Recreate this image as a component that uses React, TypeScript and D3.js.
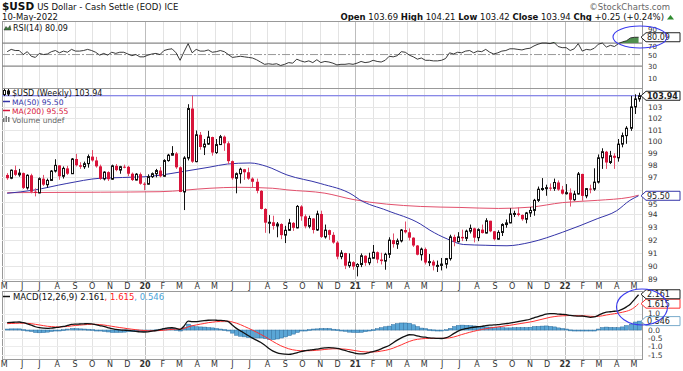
import React from 'react';
import * as d3 from 'd3';

const FONT = "'DejaVu Sans', Verdana, sans-serif";

// weekly candles, May 2019 – May 2022
const weeks = d3.timeMonday.range(new Date(2019, 4, 6), new Date(2022, 4, 10));

const opens = [
  97.20, 96.93, 97.59, 97.21, 97.35, 96.14, 97.17, 95.83, 95.73, 96.89,
  96.40, 96.75, 97.52, 97.99, 97.09, 97.74, 97.30, 98.52, 98.00, 97.88,
  98.13, 98.72, 98.40, 97.91, 96.88, 97.43, 96.85, 97.95, 97.60, 97.88,
  97.87, 97.30, 96.78, 97.26, 96.48, 96.44, 97.06, 97.30, 97.56, 97.09,
  98.39, 98.84, 98.98, 97.83, 95.81, 98.60, 102.82, 98.30, 100.56, 99.53,
  99.77, 100.37, 99.06, 99.73, 100.40, 99.84, 98.34, 96.93, 97.30, 97.67,
  97.42, 96.90, 96.64, 95.90, 94.44, 93.35, 93.38, 93.09, 93.24, 92.37,
  92.75, 93.33, 92.94, 94.64, 93.85, 93.06, 93.68, 92.77, 94.04, 92.23,
  92.76, 92.39, 91.79, 90.70, 90.98, 90.01, 90.28, 89.94, 90.10, 90.77,
  90.23, 90.58, 91.04, 90.48, 90.36, 90.88, 91.98, 91.67, 91.92, 92.77,
  92.59, 92.17, 91.56, 90.85, 91.28, 90.25, 90.32, 90.02, 90.03, 90.13,
  90.55, 92.23, 91.85, 92.23, 92.12, 92.68, 92.90, 92.17, 92.80, 92.53,
  93.50, 92.67, 92.05, 92.58, 93.20, 93.33, 94.04, 94.08, 93.96, 93.62,
  94.12, 94.32, 95.13, 96.03, 96.09, 96.16, 96.10, 96.58, 96.00, 95.67,
  95.75, 95.18, 95.64, 97.28, 95.49, 96.08, 96.04, 96.61, 98.62, 99.13,
  98.23, 98.79, 98.62, 99.77, 100.49, 101.12, 102.96, 103.66,
];
const highs = [
  97.35, 97.65, 97.97, 97.70, 97.40, 97.25, 97.30, 96.10, 97.00, 97.20,
  96.90, 97.60, 98.50, 98.00, 97.90, 97.95, 98.60, 98.95, 98.25, 98.30,
  98.90, 99.27, 98.70, 98.05, 97.50, 97.50, 98.05, 98.10, 97.95, 98.05,
  97.95, 97.40, 97.35, 97.40, 96.60, 97.25, 97.40, 97.70, 97.85, 98.50,
  98.95, 99.60, 99.10, 97.90, 98.75, 103.20, 103.96, 100.93, 100.80, 100.20,
  100.90, 100.40, 100.20, 100.55, 100.50, 100.00, 98.40, 97.40, 97.80, 97.70,
  97.80, 97.00, 96.90, 95.95, 94.50, 93.95, 93.90, 93.40, 93.30, 93.10,
  93.65, 93.40, 94.75, 94.74, 94.00, 93.90, 93.70, 94.30, 94.30, 93.20,
  92.80, 92.60, 91.90, 91.20, 91.00, 90.95, 90.35, 90.20, 90.95, 90.80,
  91.00, 91.60, 91.10, 91.00, 91.00, 92.20, 92.50, 92.10, 92.85, 93.44,
  92.90, 92.20, 91.60, 91.40, 91.40, 90.90, 90.45, 90.40, 90.60, 90.60,
  92.40, 92.40, 92.60, 92.80, 92.80, 93.20, 92.95, 92.90, 93.20, 93.70,
  93.50, 92.70, 92.75, 93.30, 93.60, 94.50, 94.30, 94.56, 94.00, 94.20,
  94.60, 95.25, 96.25, 96.94, 96.40, 96.50, 96.90, 96.75, 96.30, 96.45,
  96.10, 95.90, 97.44, 97.30, 96.10, 96.40, 97.75, 98.90, 99.42, 99.20,
  99.20, 99.00, 100.20, 100.75, 101.30, 103.93, 104.07, 104.21,
];
const lows = [
  96.80, 96.85, 97.10, 97.05, 96.05, 96.00, 95.70, 95.45, 95.70, 96.30,
  96.15, 96.70, 97.40, 96.80, 96.90, 97.20, 97.30, 97.90, 97.70, 97.70,
  97.80, 98.30, 97.80, 96.80, 96.75, 96.70, 96.80, 97.50, 97.30, 97.75,
  97.10, 96.70, 96.75, 96.40, 95.95, 96.40, 96.95, 97.00, 97.00, 97.05,
  98.30, 98.80, 97.70, 95.80, 94.35, 98.40, 98.20, 98.25, 99.30, 98.85,
  99.70, 98.80, 98.95, 99.70, 99.20, 98.10, 96.80, 95.70, 96.50, 96.80,
  96.80, 96.20, 95.70, 94.40, 92.55, 92.50, 92.80, 92.20, 92.05, 91.75,
  92.70, 92.70, 92.90, 93.50, 92.90, 92.90, 92.50, 92.70, 92.15, 92.10,
  92.00, 91.70, 90.50, 90.50, 89.75, 89.85, 89.70, 89.20, 89.90, 90.00,
  90.05, 90.55, 90.20, 90.10, 89.70, 90.60, 91.40, 91.30, 91.80, 92.50,
  91.95, 91.45, 90.80, 90.40, 90.10, 89.98, 89.65, 89.53, 89.65, 89.80,
  90.40, 91.50, 91.80, 91.90, 91.90, 92.50, 91.80, 91.90, 92.50, 92.50,
  92.60, 91.95, 92.00, 92.30, 92.95, 93.30, 93.80, 93.85, 93.50, 93.30,
  93.80, 93.90, 95.00, 95.90, 95.50, 95.90, 95.90, 95.90, 95.60, 95.60,
  94.63, 95.10, 95.60, 95.10, 95.30, 95.70, 95.90, 96.50, 97.70, 97.70,
  98.10, 97.70, 98.30, 99.50, 99.80, 100.90, 102.35, 103.42,
];
const closes = [
  96.93, 97.59, 97.21, 97.35, 96.14, 97.17, 95.83, 95.73, 96.89, 96.40,
  96.75, 97.52, 97.99, 97.09, 97.74, 97.30, 98.52, 98.00, 97.88, 98.13,
  98.72, 98.40, 97.91, 96.88, 97.43, 96.85, 97.95, 97.60, 97.88, 97.87,
  97.30, 96.78, 97.26, 96.48, 96.44, 97.06, 97.30, 97.56, 97.09, 98.39,
  98.84, 98.98, 97.83, 95.81, 98.60, 102.82, 98.30, 100.56, 99.53, 99.77,
  100.37, 99.06, 99.73, 100.40, 99.84, 98.34, 96.93, 97.30, 97.67, 97.42,
  96.90, 96.64, 95.90, 94.44, 93.35, 93.38, 93.09, 93.24, 92.37, 92.75,
  93.33, 92.94, 94.64, 93.85, 93.06, 93.68, 92.77, 94.04, 92.23, 92.76,
  92.39, 91.79, 90.70, 90.98, 90.01, 90.28, 89.94, 90.10, 90.77, 90.23,
  90.58, 91.04, 90.48, 90.36, 90.88, 91.98, 91.67, 91.92, 92.77, 92.59,
  92.17, 91.56, 90.85, 91.28, 90.25, 90.32, 90.02, 90.03, 90.13, 90.55,
  92.23, 91.85, 92.23, 92.12, 92.68, 92.90, 92.17, 92.80, 92.53, 93.50,
  92.67, 92.05, 92.58, 93.20, 93.33, 94.04, 94.08, 93.96, 93.62, 94.12,
  94.32, 95.13, 96.03, 96.09, 96.16, 96.10, 96.58, 96.00, 95.67, 95.75,
  95.18, 95.64, 97.28, 95.49, 96.08, 96.04, 96.61, 98.62, 99.13, 98.23,
  98.79, 98.62, 99.77, 100.49, 101.12, 102.96, 103.66, 103.94,
];

const rsiValues = [
  55, 59, 57, 57, 50, 55, 47, 45, 52, 50,
  51, 55, 57, 53, 56, 54, 59, 56, 56, 57,
  59, 57, 54, 49, 52, 49, 54, 52, 54, 54,
  51, 48, 50, 46, 46, 49, 51, 52, 50, 57,
  59, 60, 53, 40, 55, 69, 53, 59, 56, 56,
  58, 54, 55, 57, 55, 50, 45, 46, 47, 46,
  45, 44, 41, 37, 33, 34, 33, 34, 31, 33,
  36, 35, 42, 39, 37, 39, 36, 41, 36, 38,
  37, 35, 32, 33, 33, 34, 33, 35, 38, 36,
  37, 40, 38, 37, 40, 47, 46, 48, 55, 54,
  49, 46, 42, 44, 40, 40, 39, 39, 40, 43,
  53, 51, 54, 53, 56, 57, 53, 56, 55, 59,
  54, 51, 53, 56, 57, 60, 60, 59, 58, 60,
  61, 65, 68, 70, 70, 69, 71, 64, 62, 62,
  57, 60, 69, 56, 59, 58, 61, 68, 70, 63,
  66, 64, 69, 72, 74, 79, 80, 80.09,
];

const macdValues = [
  0.45, 0.47, 0.48, 0.49, 0.45, 0.38, 0.30, 0.20, 0.14, 0.11,
  0.10, 0.12, 0.15, 0.18, 0.22, 0.28, 0.34, 0.36, 0.37, 0.38,
  0.39, 0.38, 0.33, 0.27, 0.22, 0.15, 0.08, 0.04, 0.01, -0.01,
  -0.02, -0.05, -0.08, -0.11, -0.12, -0.11, -0.07, -0.03, 0.02, 0.08,
  0.13, 0.14, 0.10, 0.04, 0.25, 0.55, 0.52, 0.51, 0.55, 0.58,
  0.60, 0.61, 0.60, 0.59, 0.57, 0.52, 0.30, 0.10, -0.05, -0.20,
  -0.35, -0.50, -0.62, -0.75, -0.92, -1.12, -1.28, -1.38, -1.45, -1.48,
  -1.49, -1.46, -1.40, -1.32, -1.27, -1.24, -1.20, -1.17, -1.13, -1.10,
  -1.08, -1.10, -1.13, -1.18, -1.25, -1.33, -1.39, -1.44, -1.46, -1.44,
  -1.38, -1.32, -1.25, -1.15, -1.05, -0.95, -0.78, -0.62, -0.48, -0.37,
  -0.29, -0.30, -0.36, -0.42, -0.44, -0.48, -0.50, -0.51, -0.52, -0.48,
  -0.38, -0.22, -0.08, 0.02, 0.08, 0.13, 0.17, 0.20, 0.22, 0.27,
  0.30, 0.31, 0.33, 0.36, 0.39, 0.42, 0.47, 0.52, 0.56, 0.60,
  0.66, 0.75, 0.82, 0.90, 0.97, 1.00, 1.01, 0.98, 0.96, 0.94,
  0.90, 0.87, 0.85, 0.86, 0.82, 0.78, 0.80, 0.90, 1.02, 1.10,
  1.12, 1.15, 1.18, 1.28, 1.42, 1.60, 1.88, 2.161,
];
const signalValues = [
  0.39, 0.40, 0.41, 0.42, 0.42, 0.41, 0.39, 0.35, 0.31, 0.27,
  0.23, 0.21, 0.19, 0.19, 0.20, 0.22, 0.25, 0.28, 0.30, 0.32,
  0.34, 0.35, 0.35, 0.33, 0.31, 0.27, 0.23, 0.19, 0.15, 0.12,
  0.08, 0.05, 0.02, -0.01, -0.03, -0.05, -0.05, -0.04, -0.03, -0.01,
  0.02, 0.04, 0.06, 0.06, 0.10, 0.19, 0.26, 0.31, 0.36, 0.40,
  0.45, 0.48, 0.51, 0.53, 0.54, 0.54, 0.49, 0.42, 0.33, 0.22,
  0.11, -0.01, -0.13, -0.26, -0.39, -0.54, -0.69, -0.83, -0.96, -1.06,
  -1.15, -1.21, -1.25, -1.27, -1.27, -1.27, -1.26, -1.24, -1.22, -1.19,
  -1.17, -1.15, -1.15, -1.16, -1.17, -1.20, -1.24, -1.28, -1.32, -1.34,
  -1.35, -1.34, -1.33, -1.29, -1.25, -1.19, -1.11, -1.01, -0.91, -0.80,
  -0.70, -0.62, -0.57, -0.54, -0.52, -0.51, -0.51, -0.51, -0.51, -0.50,
  -0.48, -0.43, -0.36, -0.28, -0.21, -0.14, -0.08, -0.02, 0.03, 0.08,
  0.12, 0.16, 0.19, 0.22, 0.26, 0.29, 0.33, 0.37, 0.41, 0.45,
  0.49, 0.54, 0.60, 0.66, 0.72, 0.78, 0.82, 0.85, 0.87, 0.88,
  0.89, 0.88, 0.88, 0.87, 0.86, 0.84, 0.83, 0.84, 0.87, 0.92,
  0.96, 1.00, 1.04, 1.09, 1.15, 1.24, 1.39, 1.615,
];

// moving averages at a few dates
const ma50Dates = [
  '2019-05-06', '2019-06-20', '2019-08-18', '2019-10-15', '2020-01-01', '2020-01-27',
  '2020-03-02', '2020-04-23', '2020-05-23', '2020-07-02', '2020-07-31', '2020-09-04',
  '2020-11-01', '2020-12-28', '2021-01-08', '2021-02-25', '2021-04-24', '2021-05-11',
  '2021-06-10', '2021-07-08', '2021-08-15', '2021-09-22', '2021-11-01', '2021-12-28',
  '2022-02-26', '2022-04-01', '2022-04-24', '2022-05-09',
];
const ma50Values = [
  95.70, 95.95, 96.50, 96.93, 97.05, 97.18,
  97.44, 97.85, 98.10, 98.19, 97.90, 97.20,
  96.50, 95.55, 95.20, 94.32, 93.25, 92.75,
  92.07, 91.64, 91.58, 91.54, 91.80, 92.60,
  93.66, 94.30, 95.13, 95.50,
];
const ma200Dates = [
  '2019-05-06', '2019-10-15', '2020-01-27', '2020-04-23', '2020-06-10', '2020-08-10',
  '2020-09-04', '2020-11-09', '2020-12-28', '2021-04-24', '2021-07-02', '2021-09-07',
  '2021-11-01', '2021-12-28', '2022-02-26', '2022-04-24', '2022-05-09',
];
const ma200Values = [
  95.75, 95.79, 95.83, 96.11, 96.19, 96.11,
  95.98, 95.71, 95.20, 94.64, 94.56, 94.48,
  94.58, 94.95, 95.13, 95.38, 95.55,
];

const priceTicks = [89, 90, 91, 92, 93, 94, 95, 97, 98, 99, 100, 101, 102, 103];
const priceGrid = [89, 90, 91, 92, 93, 94, 95, 96, 97, 98, 99, 100, 101, 102, 103, 104];
const rsiTicks = [90, 70, 50, 30, 10];
const macdTicks = [1.0, 0.0, -0.5, -1.0, -1.5];
const macdGrid = [1.0, 0.5, 0.0, -0.5, -1.0, -1.5];

const PL = 2;
const PR = 642;
const RSI_T = 21, RSI_B = 88;
const MAIN_T = 88, MAIN_B = 281;
const MACD_T = 291, MACD_B = 359;
const LABEL_X = 648;

const parse = d3.timeParse('%Y-%m-%d');

function Tag({ y, text, stroke, bold }: { y: number; text: string; stroke: string; bold?: boolean }) {
  const x0 = 641;
  const w = 39;
  const h = 9;
  const d = `M${x0},${y} L${x0 + 5},${y - h / 2} L${x0 + w},${y - h / 2} L${x0 + w},${y + h / 2} L${x0 + 5},${y + h / 2} Z`;
  return (
    <g>
      <path d={d} fill="#fff" stroke={stroke} strokeWidth={1} />
      <text x={x0 + 6} y={y + 3} fontSize={8} fontWeight={bold ? 'bold' : 'normal'} fill="#222">{text}</text>
    </g>
  );
}

export default function App() {
  const x = d3.scaleTime()
    .domain([new Date(2019, 3, 27), new Date(2022, 4, 15)])
    .range([PL, PR]);
  const yP = d3.scaleLog().domain([89, 103]).range([279, 106.5]);
  const yR = d3.scaleLinear().domain([0, 100]).range([83.3, 25.8]);
  const yM = d3.scaleLinear().domain([-1.5, 1.0]).range([354.5, 313.7]);

  const months = d3.timeMonth.range(new Date(2019, 4, 1), new Date(2022, 5, 1));
  const monthLabel = (d: Date) => d.getMonth() === 0 ? d3.timeFormat('%y')(d) : d3.timeFormat('%b')(d)[0];

  const maLine = d3.line<[Date, number]>()
    .x(d => x(d[0]))
    .y(d => yP(d[1]))
    .curve(d3.curveMonotoneX);
  const ma50 = maLine(ma50Dates.map((s, i) => [parse(s) as Date, ma50Values[i]]));
  const ma200 = maLine(ma200Dates.map((s, i) => [parse(s) as Date, ma200Values[i]]));

  const rsiLine = d3.line<number>().x((_, i) => x(weeks[i])).y(v => yR(v))(rsiValues);
  const rsiHot = d3.area<number>()
    .x((_, i) => x(weeks[i]))
    .y0(yR(70))
    .y1(v => yR(Math.max(v, 70)))(rsiValues);

  const macdLine = d3.line<number>().x((_, i) => x(weeks[i])).y(v => yM(v)).curve(d3.curveMonotoneX)(macdValues);
  const sigLine = d3.line<number>().x((_, i) => x(weeks[i])).y(v => yM(v)).curve(d3.curveMonotoneX)(signalValues);

  const vGrid = (top: number, bottom: number) => months.map((m, i) => (
    <line key={i} x1={Math.round(x(m)) + 0.5} x2={Math.round(x(m)) + 0.5} y1={top} y2={bottom}
      stroke={m.getMonth() === 0 ? '#bdbdbd' : '#e3e3e3'} strokeWidth={1} />
  ));

  const monthRow = (yBase: number) => months.map((m, i) => (
    <text key={i} x={x(m)} y={yBase} textAnchor="middle" fontSize={8}
      fontWeight={m.getMonth() === 0 ? 'bold' : 'normal'} fill="#333">{monthLabel(m)}</text>
  ));

  const lastClose = closes[closes.length - 1];
  const lastRsi = rsiValues[rsiValues.length - 1];
  const lastMacd = macdValues[macdValues.length - 1];
  const lastSig = signalValues[signalValues.length - 1];
  const lastHist = lastMacd - lastSig;

  const rsiTickY = (t: number) => yR(t) + (t === 90 ? 0 : t === 70 ? 5.5 : 3);

  return (
    <svg width={683} height={371} style={{ position: 'absolute', left: 0, top: 0, background: '#fff' }} fontFamily={FONT}>
      <rect x={0} y={0} width={683} height={371} fill="#fff" />

      {/* header */}
      <text x={2} y={9.5} fill="#111">
        <tspan fontSize={10.5} fontWeight="bold">$USD</tspan>
        <tspan fontSize={8.5} dx={3}>US Dollar - Cash Settle (EOD)</tspan>
        <tspan fontSize={8.5} dx={3}>ICE</tspan>
      </text>
      <text x={670} y={9.5} textAnchor="end" fontSize={8.5} fill="#666">©StockCharts.com</text>
      <text x={2} y={20} fontSize={8.5} fill="#111">10-May-2022</text>
      <text x={664} y={20} textAnchor="end" fontSize={8.5} fill="#111">
        <tspan fontWeight="bold">Open</tspan> 103.69 <tspan fontWeight="bold">High</tspan> 104.21 <tspan fontWeight="bold">Low</tspan> 103.42 <tspan fontWeight="bold">Close</tspan> {lastClose.toFixed(2)} <tspan fontWeight="bold">Chg</tspan> +0.25 (+0.24%)
      </text>
      <path d="M667,19.5 L670.5,15 L674,19.5 Z" fill="#2e8b2e" />

      {/* RSI panel */}
      <rect x={PL + 0.5} y={RSI_T + 0.5} width={PR - PL} height={RSI_B - RSI_T} fill="#fff" stroke="#999" />
      {vGrid(RSI_T + 1, RSI_B)}
      <line x1={PL} x2={PR} y1={yR(70)} y2={yR(70)} stroke="#888" strokeWidth={1.2} />
      <line x1={PL} x2={PR} y1={yR(30)} y2={yR(30)} stroke="#888" strokeWidth={1.2} />
      <line x1={PL} x2={PR} y1={yR(50)} y2={yR(50)} stroke="#999" strokeWidth={1} strokeDasharray="8,2,2,2" />
      <path d={rsiHot || ''} fill="#4f8f4f" />
      <path d={rsiLine || ''} fill="none" stroke="#222" strokeWidth={0.9} />
      <path d="M4,30 L6,26.5 L8,28.5 L10,25.5 L11,30 Z" fill="#3f7f3f" stroke="#222" strokeWidth={0.5} />
      <text x={13} y={30.5} fontSize={8} fill="#111">RSI(14) {lastRsi.toFixed(2)}</text>
      {rsiTicks.map(t => (
        <text key={t} x={LABEL_X} y={rsiTickY(t)} fontSize={7} fill="#333">{t}</text>
      ))}
      <Tag y={yR(lastRsi)} text={lastRsi.toFixed(2)} stroke="#222" />

      {/* main price panel */}
      <rect x={PL + 0.5} y={MAIN_T + 0.5} width={PR - PL} height={MAIN_B - MAIN_T} fill="#fff" stroke="#999" />
      {vGrid(MAIN_T + 1, MAIN_B)}
      {priceGrid.map(t => (
        <line key={t} x1={PL} x2={PR} y1={Math.round(yP(t)) + 0.5} y2={Math.round(yP(t)) + 0.5} stroke="#e6e6e6" />
      ))}
      <path d={ma200 || ''} fill="none" stroke="#e2506c" strokeWidth={1} />
      <path d={ma50 || ''} fill="none" stroke="#3434a8" strokeWidth={1} />
      <line x1={PL} x2={PR} y1={yP(lastClose)} y2={yP(lastClose)} stroke="#6a6ae6" strokeWidth={1.2} />

      {weeks.map((d, i) => {
        const rc = Math.round(x(d));
        const o = opens[i];
        const c = closes[i];
        const up = c >= o;
        const top = yP(Math.max(o, c));
        const bot = yP(Math.min(o, c));
        const hgt = Math.max(1, bot - top);
        return (
          <g key={i}>
            <line x1={rc + 0.5} x2={rc + 0.5} y1={yP(highs[i])} y2={yP(lows[i])}
              stroke={up ? '#111' : '#e2506c'} strokeWidth={1} />
            {up ? (
              <rect x={rc - 0.5} y={top} width={2} height={hgt} fill="#fff" stroke="#111" strokeWidth={1} />
            ) : (
              <rect x={rc - 1} y={top} width={3} height={hgt} fill="#d8143a" />
            )}
          </g>
        );
      })}

      {/* legend */}
      <g>
        <line x1={4.5} x2={4.5} y1={89} y2={96} stroke="#111" />
        <rect x={3.5} y={90.5} width={2} height={4} fill="#fff" stroke="#111" />
        <line x1={8.5} x2={8.5} y1={89} y2={96} stroke="#111" />
        <rect x={7.5} y={91} width={2} height={3} fill="#111" stroke="#111" />
        <text x={12} y={95.5} fontSize={8} fill="#111">$USD (Weekly) {lastClose.toFixed(2)}</text>
        <line x1={3} x2={10} y1={101.5} y2={101.5} stroke="#3434a8" strokeWidth={1.5} />
        <text x={12} y={104.5} fontSize={7.6} fill="#3434a8">MA(50) 95.50</text>
        <line x1={3} x2={10} y1={110.5} y2={110.5} stroke="#d8143a" strokeWidth={1.5} />
        <text x={12} y={113.5} fontSize={7.6} fill="#d8143a">MA(200) 95.55</text>
        <rect x={3} y={118} width={1.5} height={4} fill="#777" />
        <rect x={5.5} y={116} width={1.5} height={6} fill="#777" />
        <rect x={8} y={117} width={1.5} height={5} fill="#777" />
        <text x={12} y={122.5} fontSize={7.6} fill="#666">Volume undef</text>
      </g>

      {priceTicks.map(t => (
        <text key={t} x={LABEL_X} y={yP(t) + (t === 95 ? 5 : 3)} fontSize={7.5} fill="#333">{t}</text>
      ))}
      <Tag y={yP(95.5)} text="95.50" stroke="#3434a8" />
      <Tag y={yP(lastClose)} text={lastClose.toFixed(2)} stroke="#222" bold />

      {monthRow(289)}

      {/* MACD panel */}
      <rect x={PL + 0.5} y={MACD_T + 0.5} width={PR - PL} height={MACD_B - MACD_T} fill="#fff" stroke="#999" />
      {vGrid(MACD_T + 1, MACD_B)}
      {macdGrid.map(t => (
        <line key={t} x1={PL} x2={PR} y1={Math.round(yM(t)) + 0.5} y2={Math.round(yM(t)) + 0.5} stroke="#ececec" />
      ))}
      {weeks.map((d, i) => {
        const h = macdValues[i] - signalValues[i];
        const y0 = yM(0);
        const y1 = yM(h);
        const top = Math.min(y0, y1);
        return (
          <rect key={i} x={Math.round(x(d)) - 1.5} y={top} width={4} height={Math.max(1, Math.abs(y1 - y0))}
            fill="#5aa6d6" stroke="#2f6f9f" strokeWidth={0.5} />
        );
      })}
      <path d={sigLine || ''} fill="none" stroke="#ff3030" strokeWidth={1} />
      <path d={macdLine || ''} fill="none" stroke="#111" strokeWidth={1.3} />
      <line x1={3} x2={10} y1={296.5} y2={296.5} stroke="#111" strokeWidth={1.5} />
      <text x={13} y={299.5} fontSize={8.5} fill="#111">
        MACD(12,26,9) {lastMacd.toFixed(3)}
        <tspan fill="#ff2020">, {lastSig.toFixed(3)}</tspan>
        <tspan fill="#4aa3d8">, {lastHist.toFixed(3)}</tspan>
      </text>
      {macdTicks.map(t => (
        <text key={t} x={LABEL_X} y={yM(t) + (t === 1 ? 2.5 : 3)} fontSize={7.5} fill="#333">{t.toFixed(1)}</text>
      ))}
      <Tag y={yM(lastHist)} text={lastHist.toFixed(3)} stroke="#7aaccc" />
      <Tag y={yM(lastSig)} text={lastSig.toFixed(3)} stroke="#ff3030" />
      <Tag y={yM(lastMacd) - 0.5} text={lastMacd.toFixed(3)} stroke="#222" />

      {monthRow(367)}

      {/* annotations */}
      <ellipse cx={640} cy={37} rx={27} ry={11} fill="none" stroke="#3a3aee" strokeWidth={1.1} />
      <ellipse cx={642} cy={307} rx={25.5} ry={18} fill="none" stroke="#3a3aee" strokeWidth={1.1} />
    </svg>
  );
}
